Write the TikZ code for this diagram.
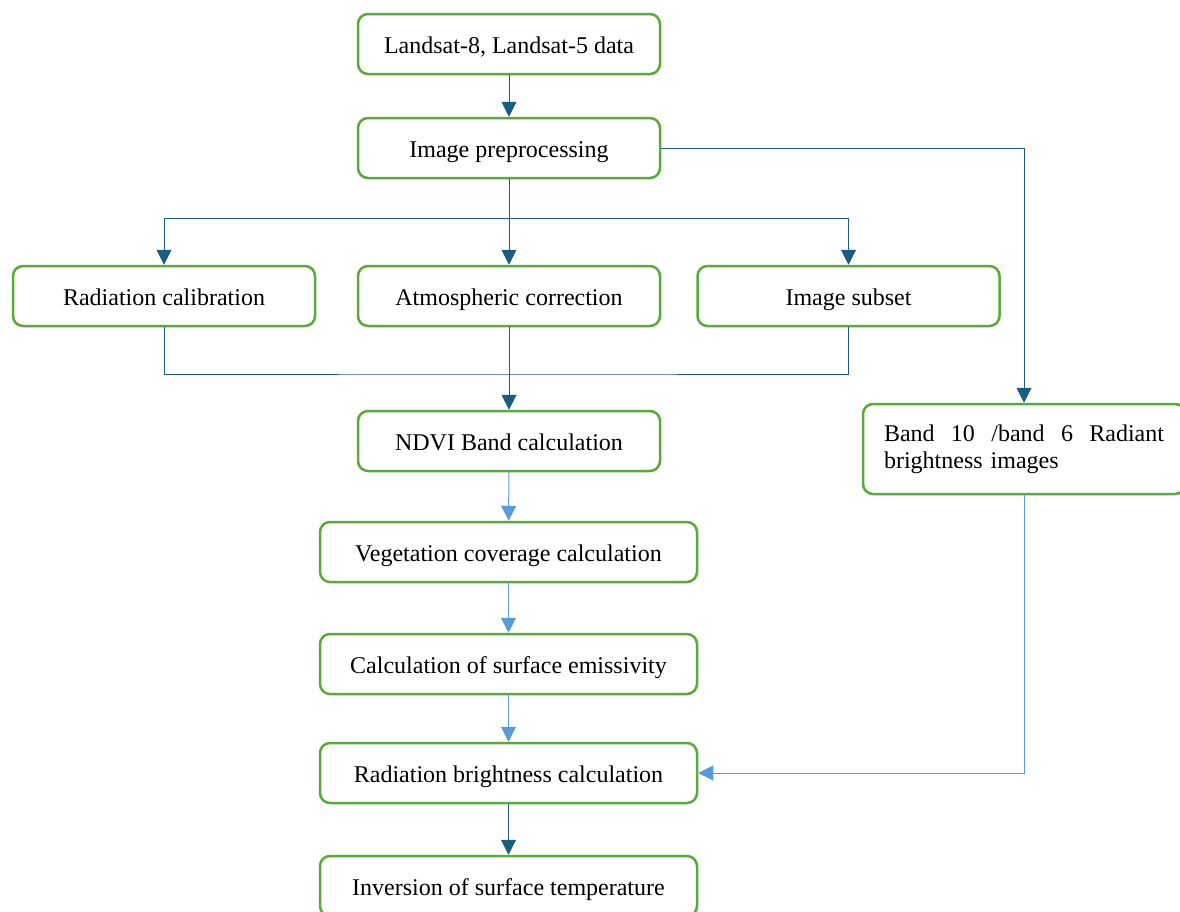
\documentclass[tikz,border=0pt]{standalone}
\usepackage{fontspec}
\setmainfont{Liberation Serif}
\usetikzlibrary{arrows.meta}
\definecolor{boxgreen}{HTML}{5AAA3A}
\definecolor{darkline}{HTML}{1B5E80}
\definecolor{lightline}{HTML}{5B9BD5}
\begin{document}
\begin{tikzpicture}[x=1pt,y=-1pt,
  box/.style={draw=boxgreen, line width=2.5pt, rounded corners=10pt, minimum height=60pt,
    inner sep=0pt, font=\fontsize{24}{27}\selectfont, fill=white},
  wbox/.style={box, minimum width=302pt, text height=22pt, text depth=4pt},
  lbox/.style={box, minimum width=377pt, text height=22pt, text depth=4pt},
  dline/.style={draw=darkline, line width=1pt},
  lline/.style={draw=lightline, line width=1pt},
  darr/.style={dline, -{Triangle[width=15pt,length=15pt]}},
  larr/.style={lline, -{Triangle[width=15pt,length=15pt]}}]
\useasboundingbox (0,0) rectangle (1180,911);
\node[wbox] (src) at (509,44) {Landsat-8, Landsat-5 data};
\node[wbox] (pre) at (509,148) {Image preprocessing};
\node[wbox] (rad) at (164,296) {Radiation calibration};
\node[wbox] (atm) at (509,296) {Atmospheric correction};
\node[wbox] (sub) at (848.5,296) {Image subset};
\node[wbox] (ndvi) at (509,441) {NDVI Band calculation};
\node[box, minimum width=322pt, minimum height=90pt, text width=280pt, align=left] (band) at (1024,449)
  {Band\hfill 10\hfill /band\hfill 6\hfill Radiant\\brightness images};
\node[lbox] (veg) at (508.5,552) {Vegetation coverage calculation};
\node[lbox] (emi) at (508.5,664) {Calculation of surface emissivity};
\node[lbox] (rb) at (508.5,773) {Radiation brightness calculation};
\node[lbox] (inv) at (508.5,886) {Inversion of surface temperature};
\coordinate (split) at (509,218);
\coordinate (merge) at (509,374);
\draw[darr] (src) -- (pre);
\draw[darr] (pre.south) -- (atm.north);
\draw[darr] (split) -| (rad.north);
\draw[darr] (split) -| (sub.north);
\draw[darr] (pre.east) -| (band.north);
\draw[dline] (rad.south) |- (merge) -| (sub.south);
\draw[darr] (atm.south) -- (ndvi.north);
\draw[larr] (ndvi) -- (veg);
\draw[larr] (veg) -- (emi);
\draw[larr] (emi) -- (rb);
\draw[larr] (band.south) |- (rb.east);
\draw[darr] (rb) -- (inv);
\end{tikzpicture}
\end{document}
